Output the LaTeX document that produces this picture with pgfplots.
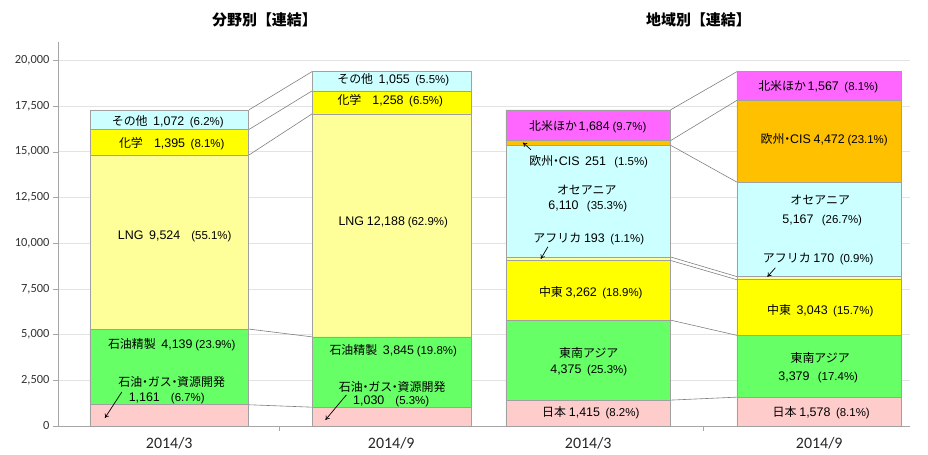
\documentclass[border=0pt]{standalone}
\usepackage{pgfplots}
\pgfplotsset{compat=1.18}
\usepackage{fontspec}
\setmainfont{Liberation Sans}
\newfontfamily\jpfont{Noto Sans CJK JP}
\newfontfamily\calfont{Carlito}
\usetikzlibrary{arrows.meta}
\definecolor{axisgray}{HTML}{A6A6A6}
\definecolor{gridgray}{HTML}{E3E3E3}
\definecolor{bargray}{HTML}{A0A0A0}
\definecolor{cpink}{HTML}{FFCCCC}
\definecolor{cgreen}{HTML}{66FF66}
\definecolor{clyel}{HTML}{FFFF99}
\definecolor{cyel}{HTML}{FFFF00}
\definecolor{ccyan}{HTML}{CCFFFF}
\definecolor{corange}{HTML}{FFC000}
\definecolor{cmag}{HTML}{FF66FF}
\newcommand{\Jp}[1]{{\jpfont\fontsize{12}{14}\selectfont #1}}
\newcommand{\Nm}[1]{{\fontsize{12.5}{14}\selectfont #1}}
\newcommand{\Pc}[1]{{\fontsize{11.5}{14}\selectfont #1}}
\newcommand{\Dot}{\kern-0.27em・\kern-0.27em}
\pgfplotsset{
  base/.style={at={(58bp,29bp)}, anchor=south west, scale only axis,
    width=852bp, height=384bp, xmin=58, xmax=912, ymin=0, ymax=21000, clip=false},
  bars/.style={draw=bargray, line width=0.6bp},
  conn/.style={draw=gray, line width=0.6bp, mark=none, sharp plot},
}
\tikzset{arr/.style={-{To[length=4bp,width=5bp]}, line width=0.7bp, black}}
\begin{document}
\begin{tikzpicture}
\path[use as bounding box] (0,0) rectangle (928bp,455bp);
% Axis A: frame + left bars
\begin{axis}[base,
  axis x line*=bottom, axis y line*=left,
  x axis line style={-}, y axis line style={-},
  axis line style={draw=axisgray},
  ytick={0,2500,...,20000}, ymajorgrids, grid style={gridgray, line width=0.6bp},
  scaled y ticks=false,
  yticklabel style={font=\calfont\fontsize{12.5}{14}\selectfont, text=black!80},
  yticklabel={\pgfmathprintnumber[fixed,precision=0,1000 sep={,},assume math mode=true]{\tick}},
  tick align=outside, major tick length=5bp,
  tick style={draw=axisgray},
  xtick={169.5,392,589.5,821}, xticklabels={2014/3,2014/9,2014/3,2014/9},
  xticklabel style={font=\calfont\fontsize{16}{18}\selectfont, text=black!85, yshift=-3bp},
  major x tick style={draw=none},
  extra x ticks={280,705}, extra x tick labels={},
  extra x tick style={major x tick style={draw=axisgray}},
  ybar stacked, bar width=159,
]
\addplot[bars, fill=cpink] coordinates {(169.5,1161) (392.5,1030)};
\addplot[bars, fill=cgreen] coordinates {(169.5,4139) (392.5,3845)};
\addplot[bars, fill=clyel] coordinates {(169.5,9524) (392.5,12188)};
\addplot[bars, fill=cyel] coordinates {(169.5,1395) (392.5,1258)};
\addplot[bars, fill=ccyan] coordinates {(169.5,1072) (392.5,1055)};
\end{axis}
% Axis B: right bars
\begin{axis}[base, hide axis, ybar stacked, bar width=165]
\addplot[bars, fill=cpink] coordinates {(589.5,1415) (821,1578)};
\addplot[bars, fill=cgreen] coordinates {(589.5,4375) (821,3379)};
\addplot[bars, fill=cyel] coordinates {(589.5,3262) (821,3043)};
\addplot[bars, fill=clyel] coordinates {(589.5,193) (821,170)};
\addplot[bars, fill=ccyan] coordinates {(589.5,6110) (821,5167)};
\addplot[bars, fill=corange] coordinates {(589.5,251) (821,4472)};
\addplot[bars, fill=cmag] coordinates {(589.5,1684) (821,1567)};
\end{axis}
% Axis C: connectors, labels, titles
\begin{axis}[base, hide axis]
\addplot[conn] coordinates {(249.5,1161) (312.5,1030)};
\addplot[conn] coordinates {(249.5,5300) (312.5,4875)};
\addplot[conn] coordinates {(249.5,14824) (312.5,17063)};
\addplot[conn] coordinates {(249.5,16219) (312.5,18321)};
\addplot[conn] coordinates {(249.5,17291) (312.5,19376)};
\addplot[conn] coordinates {(672,1415) (738.5,1578)};
\addplot[conn] coordinates {(672,5790) (738.5,4957)};
\addplot[conn] coordinates {(672,9052) (738.5,8000)};
\addplot[conn] coordinates {(672,9245) (738.5,8170)};
\addplot[conn] coordinates {(672,15355) (738.5,13337)};
\addplot[conn] coordinates {(672,15606) (738.5,17809)};
\addplot[conn] coordinates {(672,17290) (738.5,19376)};
% titles
\node[font=\jpfont\bfseries\fontsize{15}{17}\selectfont] at (axis cs:265,22229) {分野別【連結】};
\node[font=\jpfont\bfseries\fontsize{15}{17}\selectfont] at (axis cs:700,22229) {地域別【連結】};
% left bar 1
\node at (axis cs:168,16644) {\Jp{その他}~~\Nm{1,072}~~\Pc{(6.2\%)}};
\node at (axis cs:172,15440) {\Jp{化学}~~~~\Nm{1,395}~~\Pc{(8.1\%)}};
\node at (axis cs:175,10348) {\Nm{LNG}~~\Nm{9,524}~~~~\Pc{(55.1\%)}};
\node at (axis cs:172,4435) {\Jp{石油精製}~~\Nm{4,139}~\Pc{(23.9\%)}};
\node at (axis cs:172,2409) {\Jp{石油\Dot ガス\Dot 資源開発}};
\node at (axis cs:167,1533) {\Nm{1,161}~~~~\Pc{(6.7\%)}};
\draw[arr] (axis cs:122,1862) -- (axis cs:105,438);
% left bar 2
\node at (axis cs:394,18944) {\Jp{その他}~~\Nm{1,055}~~\Pc{(5.5\%)}};
\node at (axis cs:391,17794) {\Jp{化学}~~~~\Nm{1,258}~~\Pc{(6.5\%)}};
\node at (axis cs:394,11114) {\Nm{LNG}~\Nm{12,188}~\Pc{(62.9\%)}};
\node at (axis cs:394,4106) {\Jp{石油精製}~~\Nm{3,845}~\Pc{(19.8\%)}};
\node at (axis cs:393,2135) {\Jp{石油\Dot ガス\Dot 資源開発}};
\node at (axis cs:392,1369) {\Nm{1,030}~~~~\Pc{(5.3\%)}};
\draw[arr] (axis cs:347,1697) -- (axis cs:326,329);
% right bar 3
\node at (axis cs:589,16370) {\Jp{北米ほか}\,\Nm{1,684}~\Pc{(9.7\%)}};
\draw[arr] (axis cs:532,15111) -- (axis cs:524,15494);
\node at (axis cs:590,14454) {\Jp{欧州\Dot}\Nm{CIS}~~\Nm{251}~~~\Pc{(1.5\%)}};
\node at (axis cs:588,12921) {\Jp{オセアニア}};
\node at (axis cs:589,11990) {\Nm{6,110}~~~\Pc{(35.3\%)}};
\node at (axis cs:590,10238) {\Jp{アフリカ}~\Nm{193}~~\Pc{(1.1\%)}};
\draw[arr] (axis cs:549,9800) -- (axis cs:542,9143);
\node at (axis cs:592,7282) {\Jp{中東}~\Nm{3,262}~~\Pc{(18.9\%)}};
\node at (axis cs:590,3997) {\Jp{東南アジア}};
\node at (axis cs:590,3066) {\Nm{4,375}~~\Pc{(25.3\%)}};
\node at (axis cs:592,712) {\Jp{日本}~\Nm{1,415}~~\Pc{(8.2\%)}};
% right bar 4
\node at (axis cs:820,18560) {\Jp{北米ほか}\,\Nm{1,567}~~\Pc{(8.1\%)}};
\node at (axis cs:826,15659) {\Jp{欧州\Dot}\Nm{CIS}~\Nm{4,472}~\Pc{(23.1\%)}};
\node at (axis cs:822,12374) {\Jp{オセアニア}};
\node at (axis cs:824,11224) {\Nm{5,167}~~~\Pc{(26.7\%)}};
\node at (axis cs:820,9143) {\Jp{アフリカ}~\Nm{170}~~\Pc{(0.9\%)}};
\draw[arr] (axis cs:777,8651) -- (axis cs:769,8158);
\node at (axis cs:822,6296) {\Jp{中東}~~\Nm{3,043}~~\Pc{(15.7\%)}};
\node at (axis cs:822,3723) {\Jp{東南アジア}};
\node at (axis cs:820,2683) {\Nm{3,379}~~~\Pc{(17.4\%)}};
\node at (axis cs:823,712) {\Jp{日本}~\Nm{1,578}~~\Pc{(8.1\%)}};
\end{axis}
\end{tikzpicture}
\end{document}
